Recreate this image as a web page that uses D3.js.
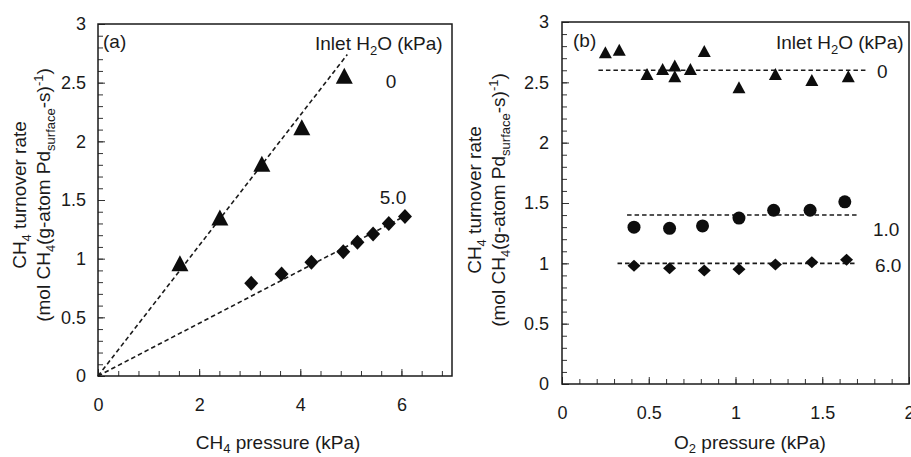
<!DOCTYPE html>
<html lang="en">
	<head>
		<meta charset="utf-8">
		<title>CH4 turnover rate</title>
		<script src="https://d3js.org/d3.v7.min.js"></script>
		<style>
			html, body {
				margin: 0;
				padding: 0;
				background: #fff;
			}
			svg text {
				font-family: "Liberation Sans", Arial, sans-serif;
				fill: #1a1a1a;
			}
			.fit {
				fill: none;
				stroke: #1a1a1a;
				stroke-width: 1.6px;
				stroke-dasharray: 4.5,3;
			}
			.frame {
				fill: none;
				stroke: #1a1a1a;
				stroke-width: 1.5px;
			}
			.tick line {
				stroke: #333;
			}
			.marker {
				fill: #0d0d0d;
			}
		</style>
	</head>
	<body>
		<div id="chart"></div>

		<script>
			// panel (a): CH4 pressure series
			var ch4P_0 = [1.62, 2.41, 3.24, 4.03, 4.87];
			var rateA_0 = [0.96, 1.35, 1.81, 2.12, 2.56];
			var ch4P_5 = [3.03, 3.63, 4.22, 4.85, 5.13, 5.44, 5.75, 6.07];
			var rateA_5 = [0.79, 0.87, 0.97, 1.06, 1.14, 1.21, 1.30, 1.36];
			var fitA_0 = [[0, 0], [4.93, 2.74]];
			var fitA_5 = [[0, 0], [6.1, 1.37]];

			// panel (b): O2 pressure series
			var o2P_0 = [0.25, 0.33, 0.49, 0.58, 0.65, 0.65, 0.74, 0.82, 1.02, 1.23, 1.44, 1.65];
			var rateB_0 = [2.75, 2.77, 2.57, 2.61, 2.64, 2.55, 2.61, 2.76, 2.46, 2.57, 2.52, 2.55];
			var o2P_1 = [0.415, 0.62, 0.81, 1.02, 1.22, 1.43, 1.63];
			var rateB_1 = [1.30, 1.29, 1.31, 1.375, 1.44, 1.44, 1.51];
			var o2P_6 = [0.415, 0.62, 0.82, 1.02, 1.23, 1.44, 1.64];
			var rateB_6 = [0.98, 0.96, 0.94, 0.95, 0.99, 1.01, 1.03];
			var fitB_0 = [[0.21, 2.6], [1.76, 2.6]];
			var fitB_1 = [[0.375, 1.4], [1.70, 1.4]];
			var fitB_6 = [[0.32, 1.0], [1.70, 1.0]];

			// ticks
			var yTicks = [0, 0.5, 1, 1.5, 2, 2.5, 3];
			var xTicksA = [0, 2, 4, 6];
			var xTicksB = [0, 0.5, 1, 1.5, 2];

			var w = 911, h = 457;
			var fmt = d3.format("~g");

			var svg = d3.select("#chart")
						.append("svg")
						.attr("width", w)
						.attr("height", h);

			function zip(xs, ys) {
				return xs.map(function(v, i) { return {x: v, y: ys[i]}; });
			}

			function triangle(tw, th) {
				return "M0," + (-th / 2) + "L" + (tw / 2) + "," + (th / 2) + "L" + (-tw / 2) + "," + (th / 2) + "Z";
			}
			function diamond(dw, dh) {
				return "M0," + (-dh / 2) + "L" + (dw / 2) + ",0L0," + (dh / 2) + "L" + (-dw / 2) + ",0Z";
			}

			// draws frame, inward ticks and labels for one panel
			function makePanel(box, xDomain, xMinor, xMajor, labelPad) {
				var x = d3.scaleLinear().domain(xDomain).range([box.left, box.right]);
				var y = d3.scaleLinear().domain([0, 3]).range([box.bottom, box.top]);
				var g = svg.append("g");

				g.append("g")
					.attr("transform", "translate(0," + box.bottom + ")")
					.call(d3.axisBottom(x).tickValues(xMinor).tickSize(-5).tickSizeOuter(0).tickFormat(""))
					.call(function(s) { s.select(".domain").remove(); });
				g.append("g")
					.attr("transform", "translate(0," + box.bottom + ")")
					.call(d3.axisBottom(x).tickValues(xMajor).tickSize(-7).tickSizeOuter(0).tickPadding(22).tickFormat(fmt))
					.call(function(s) {
						s.select(".domain").remove();
						s.selectAll("text").style("font-size", "18px").attr("fill", "#1a1a1a");
					});

				g.append("g")
					.attr("transform", "translate(" + box.left + ",0)")
					.call(d3.axisLeft(y).tickValues(d3.range(0, 3.001, 0.1)).tickSize(-5).tickSizeOuter(0).tickFormat(""))
					.call(function(s) { s.select(".domain").remove(); });
				g.append("g")
					.attr("transform", "translate(" + box.left + ",0)")
					.call(d3.axisLeft(y).tickValues(yTicks).tickSize(-7).tickSizeOuter(0).tickPadding(labelPad).tickFormat(fmt))
					.call(function(s) {
						s.select(".domain").remove();
						s.selectAll("text").style("font-size", "18px").attr("fill", "#1a1a1a");
					});

				g.append("rect")
					.attr("class", "frame")
					.attr("x", box.left)
					.attr("y", box.top)
					.attr("width", box.right - box.left)
					.attr("height", box.bottom - box.top);

				return {x: x, y: y, g: g};
			}

			function yTitle(cx, cy) {
				var t = svg.append("g")
					.attr("transform", "translate(" + cx + "," + cy + ") rotate(-90)");
				var l1 = t.append("text")
					.attr("text-anchor", "middle")
					.attr("y", 0)
					.style("font-size", "19px");
				l1.append("tspan").text("CH");
				l1.append("tspan").attr("dy", 5).style("font-size", "13px").text("4");
				l1.append("tspan").attr("dy", -5).text(" turnover rate");

				var l2 = t.append("text")
					.attr("text-anchor", "middle")
					.attr("y", 24)
					.style("font-size", "19px");
				l2.append("tspan").text("(mol CH");
				l2.append("tspan").attr("dy", 5).style("font-size", "13px").text("4");
				l2.append("tspan").attr("dy", -5).text("(g-atom Pd");
				l2.append("tspan").attr("dy", 5).style("font-size", "13px").text("surface");
				l2.append("tspan").attr("dy", -5).text("-s)");
				l2.append("tspan").attr("dy", -7).style("font-size", "13px").text("-1");
				l2.append("tspan").attr("dy", 7).text(")");
			}

			function xTitle(cx, by, sym, sub) {
				var t = svg.append("text")
					.attr("x", cx)
					.attr("y", by)
					.attr("text-anchor", "middle")
					.style("font-size", "19px");
				t.append("tspan").text(sym);
				t.append("tspan").attr("dy", 4).style("font-size", "13px").text(sub);
				t.append("tspan").attr("dy", -4).text(" pressure (kPa)");
			}

			function label(x0, y0, str, anchor) {
				svg.append("text")
					.attr("x", x0)
					.attr("y", y0)
					.attr("text-anchor", anchor || "start")
					.style("font-size", "19px")
					.text(str);
			}

			function inletLabel(x0, y0) {
				var t = svg.append("text")
					.attr("x", x0)
					.attr("y", y0)
					.style("font-size", "19px");
				t.append("tspan").text("Inlet H");
				t.append("tspan").attr("dy", 5).style("font-size", "13px").text("2");
				t.append("tspan").attr("dy", -5).text("O (kPa)");
			}

			var line = d3.line();

			// ---- panel (a)
			var pa = makePanel({left: 98, right: 452, top: 24, bottom: 376}, [0, 7],
				d3.range(0, 7.001, 0.4), xTicksA, 12);

			[fitA_0, fitA_5].forEach(function(f) {
				pa.g.append("path")
					.attr("class", "fit")
					.attr("d", line(f.map(function(p) { return [pa.x(p[0]), pa.y(p[1])]; })));
			});

			pa.g.selectAll(".triA")
				.data(zip(ch4P_0, rateA_0))
				.enter()
				.append("path")
				.attr("class", "marker")
				.attr("d", triangle(17, 16))
				.attr("transform", function(d) { return "translate(" + pa.x(d.x) + "," + pa.y(d.y) + ")"; });

			pa.g.selectAll(".diaA")
				.data(zip(ch4P_5, rateA_5))
				.enter()
				.append("path")
				.attr("class", "marker")
				.attr("d", diamond(14, 15))
				.attr("transform", function(d) { return "translate(" + pa.x(d.x) + "," + pa.y(d.y) + ")"; });

			label(103, 48, "(a)");
			inletLabel(315, 50);
			label(391, 88, "0", "middle");
			label(393, 204, "5.0", "middle");
			yTitle(26, 195);
			xTitle(278, 449, "CH", "4");

			// ---- panel (b)
			var pb = makePanel({left: 562, right: 909, top: 22, bottom: 384}, [0, 2],
				d3.range(0, 2.001, 0.1), xTicksB, 13);

			[fitB_0, fitB_1, fitB_6].forEach(function(f) {
				pb.g.append("path")
					.attr("class", "fit")
					.attr("d", line(f.map(function(p) { return [pb.x(p[0]), pb.y(p[1])]; })));
			});

			pb.g.selectAll(".triB")
				.data(zip(o2P_0, rateB_0))
				.enter()
				.append("path")
				.attr("class", "marker")
				.attr("d", triangle(13, 12))
				.attr("transform", function(d) { return "translate(" + pb.x(d.x) + "," + pb.y(d.y) + ")"; });

			pb.g.selectAll(".cirB")
				.data(zip(o2P_1, rateB_1))
				.enter()
				.append("circle")
				.attr("class", "marker")
				.attr("cx", function(d) { return pb.x(d.x); })
				.attr("cy", function(d) { return pb.y(d.y); })
				.attr("r", 6.5);

			pb.g.selectAll(".diaB")
				.data(zip(o2P_6, rateB_6))
				.enter()
				.append("path")
				.attr("class", "marker")
				.attr("d", diamond(13, 12))
				.attr("transform", function(d) { return "translate(" + pb.x(d.x) + "," + pb.y(d.y) + ")"; });

			label(573, 47, "(b)");
			inletLabel(776, 49);
			label(877, 78, "0");
			label(873, 236, "1.0");
			label(875, 272, "6.0");
			yTitle(481, 200);
			xTitle(750, 449, "O", "2");
		</script>
	</body>
</html>
